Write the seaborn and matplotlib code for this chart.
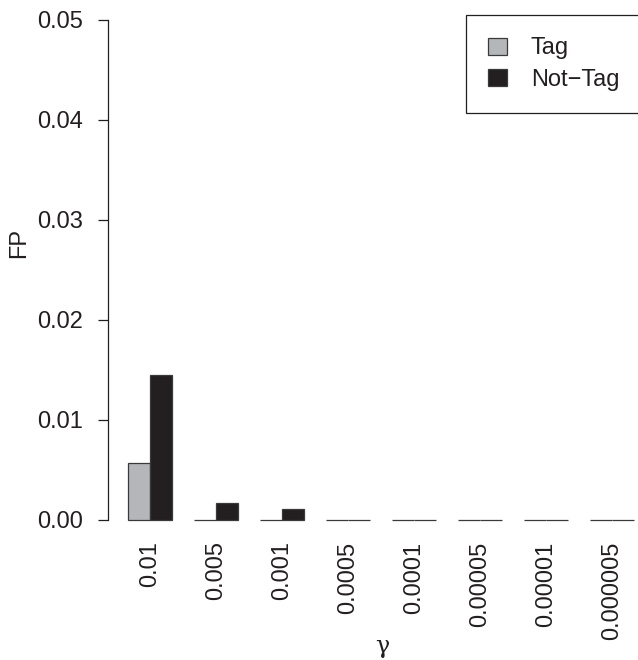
import matplotlib
matplotlib.use("Agg")
import matplotlib.pyplot as plt
import seaborn as sns
import pandas as pd

gammas = ["0.01", "0.005", "0.001", "0.0005", "0.0001", "0.00005", "0.00001", "0.000005"]
tag_fp = [0.0057, 0.0, 0.0, 0.0, 0.0, 0.0, 0.0, 0.0]
nottag_fp = [0.0145, 0.0017, 0.00113, 0.0, 0.0, 0.0, 0.0, 0.0]
series = ["Tag", "Not\u2212Tag"]
colors = ["#b5b6ba", "#231f20"]
yticks = [0.00, 0.01, 0.02, 0.03, 0.04, 0.05]

df = pd.DataFrame({
    "gamma": gammas * 2,
    "FP": tag_fp + nottag_fp,
    "type": [series[0]] * len(gammas) + [series[1]] * len(gammas),
})

plt.rcParams["font.family"] = ["Liberation Sans", "DejaVu Sans"]
ink = "#231f20"
fs = 17

W, H = 638, 660
fig = plt.figure(figsize=(W / 100, H / 100), dpi=100)
# axes in pixel coordinates: left 107.8, top 0, bottom 540, right 654.2
ax = fig.add_axes([107.8 / W, 120 / H, 546.4 / W, 540 / H])

sns.barplot(data=df, x="gamma", y="FP", hue="type", order=gammas, hue_order=series,
            palette=colors, width=2 / 3, gap=0, edgecolor="#3a3a3a", linewidth=0.9,
            saturation=1, ax=ax, legend=True)

ax.set_xlim(-0.639, 7.639)
ax.set_ylim(-0.002, 0.052)
for s in ["top", "right", "bottom"]:
    ax.spines[s].set_visible(False)
ax.spines["left"].set_bounds(0, 0.05)
ax.spines["left"].set_color(ink)
ax.spines["left"].set_linewidth(0.9)

ax.set_yticks(yticks)
ax.set_yticklabels([f"{v:.2f}" for v in yticks])
ax.tick_params(axis="y", length=7.2, width=0.9, color=ink, pad=10.5, labelsize=fs, labelcolor=ink)
ax.tick_params(axis="x", length=0, pad=1, labelsize=fs, labelcolor=ink, labelrotation=90)

ax.set_ylabel("FP", fontsize=fs, color=ink, va="center")
ax.yaxis.set_label_coords((19.5 - 107.8) / 546.4, (540 - 243) / 540)
ax.set_xlabel("\u03b3", fontsize=fs, color=ink, va="center", family=["DejaVu Serif"])
ax.xaxis.set_label_coords((382 - 107.8) / 546.4, (540 - 647) / 540)

handles, labels = ax.get_legend_handles_labels()
ax.legend(handles, labels, loc="upper left",
          bbox_to_anchor=(466 / W, 1 - 15 / H - 0.01, (660 - 466) / W, 0.01),
          bbox_transform=fig.transFigure, mode="expand", borderaxespad=0,
          fontsize=fs, frameon=True, fancybox=False, edgecolor=ink, framealpha=1,
          borderpad=0.95, handlelength=0.8, handleheight=0.72, handletextpad=1.0,
          labelspacing=0.39, title=None)
ax.get_legend().get_frame().set_linewidth(0.9)
for t in ax.get_legend().get_texts():
    t.set_color(ink)

fig.savefig("out.png", dpi=100)
